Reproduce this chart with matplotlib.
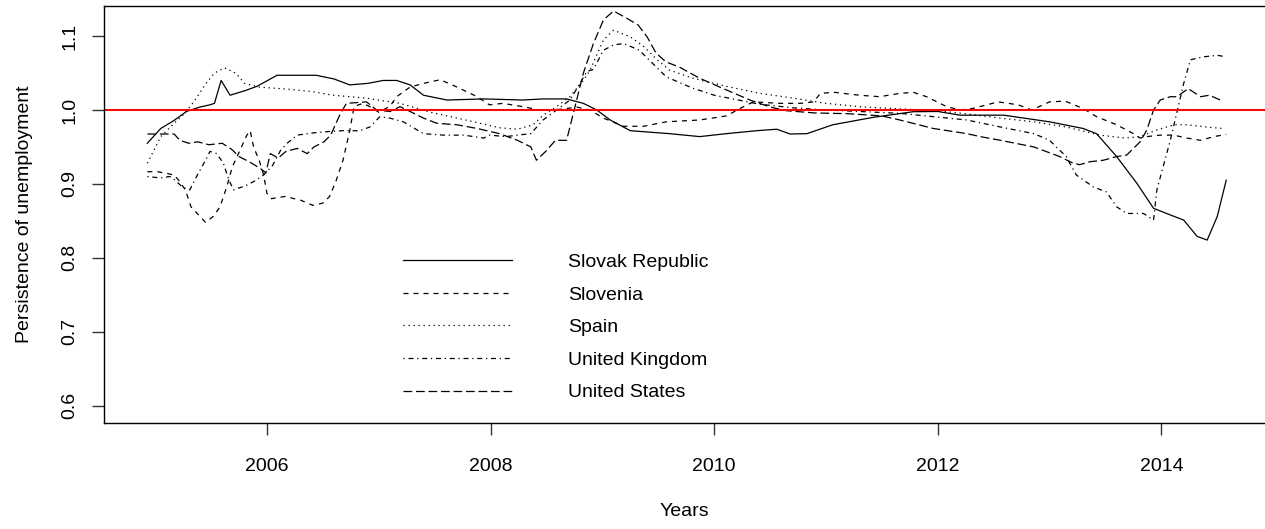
import numpy as np
import matplotlib
matplotlib.use('Agg')
import matplotlib.pyplot as plt

plt.rcParams['font.family'] = ['Liberation Sans', 'DejaVu Sans']

# Rolling persistence estimates, decimal years
slovak_x = np.array([2004.93, 2005.05, 2005.17, 2005.28, 2005.40, 2005.49, 2005.53, 2005.59, 2005.67,
                     2005.80, 2005.91, 2006.09, 2006.25, 2006.44, 2006.60, 2006.74, 2006.90, 2007.04,
                     2007.16, 2007.28, 2007.40, 2007.61, 2007.94, 2008.29, 2008.47, 2008.68, 2008.83,
                     2008.95, 2009.07, 2009.25, 2009.60, 2009.87, 2010.11, 2010.38, 2010.56, 2010.68,
                     2010.83, 2011.06, 2011.42, 2011.78, 2012.00, 2012.20, 2012.59, 2013.00, 2013.30,
                     2013.42, 2013.60, 2013.78, 2013.93, 2014.08, 2014.20, 2014.32, 2014.41, 2014.50,
                     2014.58])
slovak_y = np.array([0.955, 0.975, 0.986, 0.998, 1.004, 1.007, 1.009, 1.040, 1.020,
                     1.026, 1.032, 1.047, 1.047, 1.047, 1.042, 1.034, 1.036, 1.040,
                     1.040, 1.034, 1.020, 1.0135, 1.015, 1.0135, 1.015, 1.015, 1.009,
                     1.000, 0.9865, 0.972, 0.968, 0.964, 0.968, 0.972, 0.974, 0.9675,
                     0.968, 0.980, 0.990, 0.9977, 0.998, 0.993, 0.993, 0.984, 0.975,
                     0.968, 0.937, 0.901, 0.867, 0.858, 0.851, 0.829, 0.824, 0.856,
                     0.905])

slovenia_x = np.array([2004.93, 2005.02, 2005.11, 2005.17, 2005.21, 2005.27, 2005.32, 2005.45, 2005.52,
                       2005.58, 2005.64, 2005.69, 2005.76, 2005.82, 2005.85, 2005.88, 2005.93, 2005.97,
                       2006.00, 2006.04, 2006.16, 2006.30, 2006.41, 2006.50, 2006.56, 2006.62, 2006.68,
                       2006.74, 2006.78, 2006.86, 2006.92, 2007.00, 2007.10, 2007.16, 2007.28, 2007.40,
                       2007.55, 2007.70, 2007.88, 2007.99, 2008.11, 2008.29, 2008.44, 2008.56, 2008.68,
                       2008.77, 2008.89, 2009.01, 2009.19, 2009.37, 2009.57, 2009.87, 2010.11, 2010.23,
                       2010.35, 2010.59, 2010.77, 2010.89, 2010.95, 2011.07, 2011.30, 2011.48, 2011.66,
                       2011.78, 2011.90, 2012.08, 2012.20, 2012.31, 2012.54, 2012.72, 2012.84, 2013.00,
                       2013.14, 2013.30, 2013.42, 2013.60, 2013.75, 2013.81, 2013.87, 2013.99, 2014.11,
                       2014.23, 2014.35, 2014.47, 2014.58])
slovenia_y = np.array([0.9165, 0.9165, 0.914, 0.912, 0.905, 0.892, 0.869, 0.848, 0.856,
                       0.869, 0.896, 0.923, 0.946, 0.966, 0.972, 0.950, 0.932, 0.912,
                       0.887, 0.880, 0.883, 0.878, 0.871, 0.874, 0.883, 0.905, 0.932,
                       0.972, 1.005, 1.009, 1.0045, 0.997, 1.005, 1.018, 1.031, 1.036,
                       1.041, 1.031, 1.018, 1.007, 1.009, 1.0045, 1.000, 1.000, 1.002,
                       1.004, 1.000, 0.989, 0.978, 0.978, 0.984, 0.9865, 0.992, 1.002,
                       1.011, 1.009, 1.009, 1.011, 1.0225, 1.024, 1.020, 1.018, 1.0225,
                       1.024, 1.018, 1.0045, 1.000, 1.002, 1.011, 1.007, 1.000, 1.011,
                       1.012, 1.002, 0.991, 0.980, 0.968, 0.962, 0.964, 0.966, 0.966,
                       0.962, 0.959, 0.964, 0.967])

spain_x = np.array([2004.93, 2004.99, 2005.05, 2005.17, 2005.26, 2005.35, 2005.45, 2005.53, 2005.62,
                    2005.72, 2005.80, 2005.93, 2006.20, 2006.40, 2006.59, 2006.89, 2007.19, 2007.46,
                    2007.79, 2008.08, 2008.24, 2008.38, 2008.47, 2008.59, 2008.71, 2008.83, 2008.89,
                    2009.01, 2009.10, 2009.25, 2009.37, 2009.49, 2009.60, 2009.81, 2010.11, 2010.41,
                    2010.71, 2011.00, 2011.30, 2011.60, 2012.00, 2012.30, 2012.56, 2012.86, 2013.15,
                    2013.45, 2013.68, 2013.81, 2013.96, 2014.11, 2014.23, 2014.40, 2014.55])
spain_y = np.array([0.928, 0.946, 0.964, 0.982, 0.995, 1.012, 1.035, 1.050, 1.057,
                    1.050, 1.036, 1.031, 1.028, 1.025, 1.020, 1.016, 1.009, 0.997,
                    0.986, 0.976, 0.974, 0.980, 0.993, 1.0045, 1.018, 1.040, 1.054,
                    1.095, 1.108, 1.099, 1.086, 1.068, 1.054, 1.043, 1.032, 1.0225,
                    1.016, 1.009, 1.0045, 1.002, 0.999, 0.994, 0.989, 0.984, 0.977,
                    0.966, 0.962, 0.964, 0.973, 0.980, 0.980, 0.977, 0.975])

uk_x = np.array([2004.93, 2005.05, 2005.13, 2005.17, 2005.25, 2005.31, 2005.37, 2005.45, 2005.49,
                 2005.55, 2005.61, 2005.66, 2005.70, 2005.80, 2005.88, 2005.97, 2006.05, 2006.12,
                 2006.18, 2006.27, 2006.41, 2006.56, 2006.68, 2006.83, 2006.92, 2007.01, 2007.10,
                 2007.22, 2007.40, 2007.58, 2007.76, 2007.94, 2007.99, 2008.14, 2008.24, 2008.36,
                 2008.47, 2008.59, 2008.71, 2008.80, 2008.86, 2008.92, 2009.01, 2009.10, 2009.19,
                 2009.33, 2009.45, 2009.57, 2009.80, 2010.00, 2010.40, 2010.70, 2011.00, 2011.30,
                 2011.66, 2011.96, 2012.26, 2012.56, 2012.86, 2013.00, 2013.06, 2013.15, 2013.18,
                 2013.24, 2013.39, 2013.51, 2013.60, 2013.69, 2013.84, 2013.93, 2013.96, 2014.08,
                 2014.20, 2014.26, 2014.38, 2014.50, 2014.58])
uk_y = np.array([0.910, 0.908, 0.910, 0.906, 0.895, 0.892, 0.910, 0.932, 0.944,
                 0.941, 0.928, 0.905, 0.892, 0.897, 0.903, 0.912, 0.925, 0.945,
                 0.955, 0.966, 0.969, 0.971, 0.972, 0.972, 0.977, 0.991, 0.989,
                 0.984, 0.968, 0.966, 0.966, 0.962, 0.966, 0.964, 0.966, 0.968,
                 0.9865, 1.000, 1.0135, 1.036, 1.052, 1.055, 1.081, 1.088, 1.090,
                 1.081, 1.063, 1.045, 1.030, 1.020, 1.008, 1.003, 1.000, 0.998,
                 0.9955, 0.991, 0.9865, 0.977, 0.968, 0.959, 0.950, 0.937, 0.928,
                 0.912, 0.896, 0.889, 0.869, 0.860, 0.860, 0.851, 0.892, 0.959,
                 1.036, 1.068, 1.072, 1.074, 1.072])

us_x = np.array([2004.93, 2005.05, 2005.17, 2005.22, 2005.30, 2005.38, 2005.48, 2005.60, 2005.69,
                 2005.75, 2005.84, 2005.94, 2005.99, 2006.03, 2006.10, 2006.17, 2006.27, 2006.36,
                 2006.42, 2006.51, 2006.57, 2006.65, 2006.71, 2006.89, 2006.98, 2007.10, 2007.19,
                 2007.28, 2007.40, 2007.52, 2007.70, 2007.88, 2008.08, 2008.24, 2008.36, 2008.41,
                 2008.50, 2008.58, 2008.68, 2008.77, 2008.83, 2008.92, 2009.01, 2009.10, 2009.22,
                 2009.32, 2009.40, 2009.48, 2009.57, 2009.69, 2009.87, 2010.05, 2010.32, 2010.50,
                 2010.65, 2010.90, 2011.20, 2011.50, 2011.66, 2011.96, 2012.26, 2012.38, 2012.56,
                 2012.86, 2013.09, 2013.21, 2013.27, 2013.36, 2013.48, 2013.60, 2013.69, 2013.81,
                 2013.87, 2013.93, 2013.99, 2014.08, 2014.14, 2014.24, 2014.35, 2014.43, 2014.55])
us_y = np.array([0.9675, 0.9675, 0.9675, 0.959, 0.955, 0.957, 0.953, 0.955, 0.946,
                 0.937, 0.930, 0.921, 0.915, 0.941, 0.935, 0.944, 0.948, 0.941,
                 0.950, 0.957, 0.966, 0.993, 1.009, 1.011, 1.000, 0.998, 1.0045,
                 0.998, 0.989, 0.982, 0.980, 0.975, 0.968, 0.959, 0.950, 0.932,
                 0.945, 0.959, 0.959, 1.0135, 1.050, 1.090, 1.122, 1.134, 1.124,
                 1.115, 1.099, 1.077, 1.065, 1.058, 1.043, 1.031, 1.0135, 1.004,
                 0.999, 0.996, 0.995, 0.992, 0.9865, 0.975, 0.968, 0.964, 0.959,
                 0.950, 0.937, 0.928, 0.926, 0.930, 0.932, 0.937, 0.939, 0.957,
                 0.973, 1.000, 1.0135, 1.018, 1.018, 1.029, 1.018, 1.020, 1.012])

countries = ['Slovak Republic', 'Slovenia', 'Spain', 'United Kingdom', 'United States']
series = [(slovak_x, slovak_y), (slovenia_x, slovenia_y), (spain_x, spain_y),
          (uk_x, uk_y), (us_x, us_y)]
# R lty 1..5
dashes = ['-', (0, (4, 4)), (0, (1, 3)), (0, (1, 3, 4, 3)), (0, (7, 3))]

fig = plt.figure(figsize=(12.65, 5.29), dpi=100)
ax = fig.add_axes([0.0822, 0.2013, 0.9178, 0.7873])

for (x, y), name, ls in zip(series, countries, dashes):
    ax.plot(x, y, color='black', lw=0.9, linestyle=ls, label=name)

ax.axhline(1.0, color='red', lw=1.4)

ax.set_xlim(2004.542, 2014.927)
ax.set_ylim(0.5771, 1.1407)
ax.set_xticks([2006, 2008, 2010, 2012, 2014])
ax.set_yticks([0.6, 0.7, 0.8, 0.9, 1.0, 1.1])
ax.set_yticklabels(['0.6', '0.7', '0.8', '0.9', '1.0', '1.1'])

for s in ['left', 'top', 'bottom']:
    ax.spines[s].set_linewidth(1.0)
ax.spines['right'].set_visible(False)

ax.tick_params(axis='both', labelsize=14, length=8.6, width=1.0, color='#333333')
ax.tick_params(axis='x', pad=17)
ax.tick_params(axis='y', pad=10)
plt.setp(ax.get_yticklabels(), rotation=90, va='center')

ax.set_xlabel('Years', fontsize=14)
ax.set_ylabel('Persistence of unemployment', fontsize=14)
ax.xaxis.set_label_coords(0.5, -0.193)
ax.yaxis.set_label_coords(-0.0614, 0.5)

ax.legend(loc='upper left', bbox_to_anchor=(0.2575, 0.406), frameon=False, fontsize=14,
          handlelength=5.6, handletextpad=2.9, labelspacing=0.77, borderpad=0, borderaxespad=0)

fig.savefig('out.png', dpi=100)
